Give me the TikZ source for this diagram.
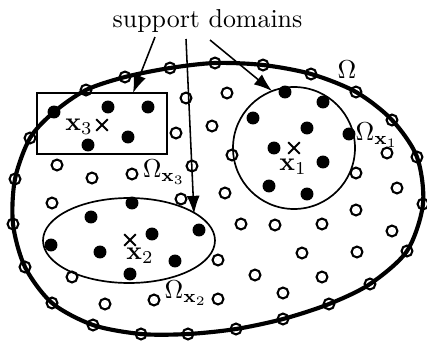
\documentclass[tikz,border=0pt]{standalone}
\usepackage{amsmath,amssymb}
\usepackage{tikz}
\usetikzlibrary{arrows.meta,shapes.misc}

\begin{document}
\begin{tikzpicture}[x=0.386pt,y=-0.386pt,
  odot/.style={circle,draw,line width=0.8pt,inner sep=0pt,minimum size=4.2pt},
  fdot/.style={circle,fill,inner sep=0pt,minimum size=5pt},
  mid/.style={cross out,draw,line width=0.7pt,inner sep=0pt,minimum size=3.8pt},
  ptr/.style={-{Latex[length=7pt,width=5pt]},line width=0.6pt}]
\useasboundingbox (0,0) rectangle (427,342);

% problem domain
\draw[line width=1.6pt] plot[smooth cycle] coordinates {(13,224) (15,179) (30,138) (54,112)
  (86,90) (125,77) (170,68) (215,63) (263,65) (311,74) (356,92) (392,120) (417,157)
  (423,204) (407,251) (370,284) (329,304) (283,319) (236,329) (188,334) (141,334)
  (93,325) (52,303) (25,267)};

% support domains
\draw[line width=0.65pt] (37,93) rectangle (167,154);
\draw[line width=0.65pt] (294,148) circle (61);
\draw[line width=0.65pt] (129,240.5) ellipse (86 and 42.5);

% nodes on the boundary
\foreach \x/\y [count=\i] in {13/224,15/179,30/138,86/90,125/77,170/68,215/63,263/65,
  311/74,356/92,392/120,417/157,423/204,407/251,370/284,329/304,283/319,236/329,
  188/334,141/334,93/325,52/303,25/267}
  \node[odot] (b\i) at (\x,\y) {};

% field nodes
\foreach \x/\y [count=\i] in {186/98,227/93,176/133,212/126,232/155,387/153,57/165,
  132/174,192/166,92/178,356/173,397/188,225/193,52/203,181/199,356/210,241/224,
  275/225,322/224,392/231,302/253,357/252,218/260,72/277,255/275,322/277,283/293,
  105/304,154/300,218/299}
  \node[odot] (n\i) at (\x,\y) {};

% nodes inside the support domains
\foreach \x/\y [count=\i] in {54/112,108/107,148/107,128/137,88/145,
  285/92,323/102,253/118,307/128,349/134,274/148,323/162,269/186,307/194,
  132/203,91/217,152/234,199/230,51/245,100/252,175/261,130/274}
  \node[fdot] (s\i) at (\x,\y) {};

% points of interest
\node[mid] (p1) at (294,148) {};
\node[mid] (p2) at (130,240) {};
\node[mid] (p3) at (102,125) {};
\node (l1) at (293,167) {$\mathbf{x}_1$};
\node (l2) at (140,256) {$\mathbf{x}_2$};
\node (l3) at (79,127) {$\mathbf{x}_3$};

\node (om) at (347,70) {$\Omega$};
\node (om1) at (377,135) {$\Omega_{\mathbf{x}_1}$};
\node (om2) at (186,293) {$\Omega_{\mathbf{x}_2}$};
\node (om3) at (164,172) {$\Omega_{\mathbf{x}_3}$};

\node[anchor=base] (sd) at (207.5,27) {support domains};
\coordinate (a1) at (155,37);
\coordinate (a2) at (186,39);
\coordinate (a3) at (210,40);
\coordinate (t3) at (133,93);
\coordinate (t2) at (194,214);
\coordinate (t1) at (272,91);
\draw[ptr] (a1) -- (t3);
\draw[ptr] (a2) -- (t2);
\draw[ptr] (a3) -- (t1);
\end{tikzpicture}
\end{document}
